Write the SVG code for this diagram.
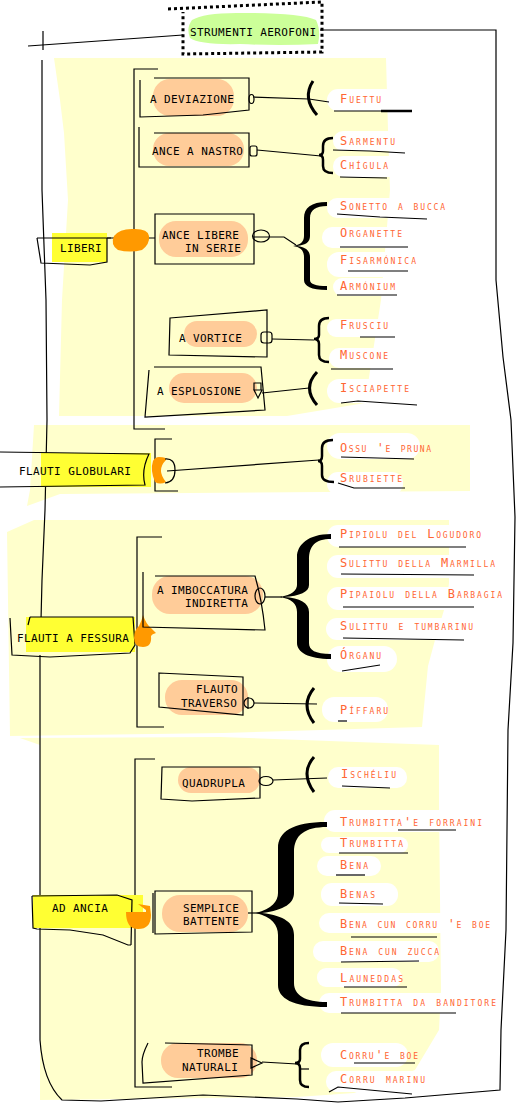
<svg xmlns="http://www.w3.org/2000/svg" width="529" height="1106" viewBox="0 0 529 1106">
<style>
.bg{fill:#FFFFCC}
.ln{fill:none;stroke:#000;stroke-width:1.2}
.ln2{fill:none;stroke:#000;stroke-width:2.5}
.ln3{fill:none;stroke:#000;stroke-width:3}
.br{fill:#000}
.pe{fill:#FFCC99}
.hl{fill:#FFFF33}
.or{fill:#FF9900}
.wb{fill:#FFFFFF}
.t{font-family:"DejaVu Sans Mono","Liberation Mono",monospace;font-size:11px;letter-spacing:0.4px;fill:#000}
.lf{font-family:"DejaVu Sans Mono","Liberation Mono",monospace;font-size:12px;font-variant:small-caps;fill:#FF6633}
</style>
<rect width="529" height="1106" fill="#FFFFFF"/>
<g id="backgrounds">
<path class="bg" d="M54,58 L386,58 L388,130 L390,190 L381,300 L365,403 L287,416 L59,416 L62,300 L68,200 L64,133 L60,100 Z"/>
<path class="bg" d="M34,425 L470,425 L470,491 L60,494 L27,506 L30,490 Z"/>
<path class="bg" d="M7,532 L34,520 L449,520 L449,583 L447,600 L435,640 L428,666 L422,727 L223,733 L10,736 Z"/>
<path class="bg" d="M20,738 L220,737 L439,745 L439,807 L441,990 L439,1030 L415,1070 L354,1093 L297,1097 L40,1100 L40,745 Z"/>
</g>
<g id="leaf-blobs">
<rect class="wb" x="327" y="89" width="70" height="22" rx="11"/>
<rect class="wb" x="333" y="131" width="72" height="20" rx="10"/>
<rect class="wb" x="333" y="156" width="66" height="21" rx="10"/>
<rect class="wb" x="327" y="198" width="125" height="20" rx="10"/>
<rect class="wb" x="322" y="227" width="88" height="21" rx="10"/>
<rect class="wb" x="327" y="252" width="95" height="25" rx="12"/>
<rect class="wb" x="333" y="278" width="70" height="18" rx="9"/>
<rect class="wb" x="327" y="319" width="70" height="18" rx="9"/>
<rect class="wb" x="329" y="348" width="70" height="20" rx="10"/>
<rect class="wb" x="327" y="379" width="90" height="24" rx="12"/>
<rect class="wb" x="327" y="433" width="93" height="26" rx="13"/>
<rect class="wb" x="327" y="472" width="76" height="23" rx="11"/>
<rect class="wb" x="327" y="525" width="160" height="22" rx="11"/>
<rect class="wb" x="327" y="555" width="175" height="23" rx="11"/>
<rect class="wb" x="327" y="587" width="180" height="23" rx="11"/>
<rect class="wb" x="326" y="618" width="155" height="22" rx="11"/>
<rect class="wb" x="327" y="646" width="70" height="26" rx="13"/>
<rect class="wb" x="322" y="697" width="66" height="25" rx="12"/>
<rect class="wb" x="328" y="767" width="79" height="21" rx="10"/>
<rect class="wb" x="324" y="810" width="170" height="22" rx="11"/>
<rect class="wb" x="321" y="837" width="87" height="16" rx="8"/>
<rect class="wb" x="317" y="856" width="64" height="20" rx="10"/>
<rect class="wb" x="321" y="883" width="77" height="23" rx="11"/>
<rect class="wb" x="319" y="913" width="178" height="20" rx="10"/>
<rect class="wb" x="313" y="941" width="126" height="21" rx="10"/>
<rect class="wb" x="317" y="968" width="85" height="19" rx="9"/>
<rect class="wb" x="319" y="993" width="180" height="20" rx="10"/>
<rect class="wb" x="321" y="1043" width="87" height="24" rx="12"/>
<rect class="wb" x="326" y="1071" width="108" height="21" rx="10"/>
</g>
<g id="connectors">
<path class="ln" d="M28,46 L183,35"/>
<path class="ln" d="M43,31 L43,50"/>
<path class="ln" d="M42,60 L42,190 L46,300 L47,420 L45,510 L42,580 L41,620"/>
<path class="ln" d="M40,655 L40,1040 Q43,1082 62,1100 L101,1101 L203,1095 L297,1099 L338,1102 L405,1098 L500,1090 L501,1030 L506,930 L508,730 L513,643 L515,517 L511,420 L503,357 L496,280 L496,30 L320,30"/>
<path class="ln" d="M158,69 L134,69 L134,429 L165,429"/>
<path class="ln" d="M172,439 L155,439 L155,491 L178,491"/>
<path class="ln" d="M162,537 L137,537 L137,727 L164,727"/>
<path class="ln" d="M155,759 L135,759 L135,1087 L172,1087"/>
<path class="ln" d="M107,238 L155,238"/>
<path class="ln" d="M167,471 L319,460"/>
<path class="ln" d="M253,97 L309,99 L329,102"/>
<path class="ln" d="M257,150 L321,156"/>
<path class="ln" d="M253,237 L284,237 L296,245"/>
<path class="ln" d="M272,339 L314,340"/>
<path class="ln" d="M262,393 L309,388"/>
<path class="ln" d="M265,597 L282,597"/>
<path class="ln" d="M254,703 L317,704"/>
<path class="ln" d="M273,780 L327,778"/>
<path class="ln" d="M248,913 L260,913"/>
<path class="ln" d="M262,1062 L297,1064"/>
<path class="ln3" d="M313,81 Q302,98 317,115"/>
<path class="ln3" d="M317,372 Q302,388 317,405"/>
<path class="ln3" d="M314,688 Q300,705 314,723"/>
<path class="ln3" d="M314,757 Q300,773 314,792"/>
<path class="ln2" d="M333,138 Q323,138 323,146 L323,151 Q323,155 319,155 Q323,155 323,160 L323,166 Q323,173 333,173"/>
<path class="ln2" d="M329,318 Q319,318 319,326 L319,335 Q319,339 314,339 Q319,339 319,344 L319,355 Q319,362 329,362"/>
<path class="ln2" d="M333,440 Q322,440 322,448 L322,456 Q322,461 318,461 Q322,461 322,466 L322,475 Q322,482 334,482"/>
<path class="ln2" d="M309,1043 Q300,1043 300,1050 L300,1059 Q300,1063 295,1063 Q300,1063 300,1068 L300,1080 Q300,1087 309,1087"/>
<path class="ln" d="M300,1069 L309,1069"/>
<path class="br" d="M327,202 L327,206 C316,206 310,210 310,218 L310,236 C310,242 306,245 297,246 C306,247 310,251 310,257 L310,280 C310,284 316,286 327,286 L327,290 C311,290 304,286 304,280 L304,257 C304,250 300,247 293,246 C300,245 304,242 304,236 L304,218 C304,208 311,202 327,202 Z"/>
<path class="br" d="M331,534 L331,539 C315,539 309,546 309,560 L309,585 C309,592 300,596 284,597 C300,598 309,603 309,612 L309,643 C309,650 315,654 331,654 L331,659 C308,659 297,652 297,643 L297,612 C297,604 292,599 280,597 C292,595 297,590 297,585 L297,557 C297,545 308,534 331,534 Z"/>
<path class="br" d="M327,822 L327,827 C305,827 294,835 294,852 L294,893 C294,903 285,910 262,913 C285,916 294,923 294,935 L294,983 C294,995 305,1002 327,1002 L327,1007 C292,1007 278,998 278,985 L278,935 C278,925 272,917 256,913 C272,909 278,901 278,893 L278,848 C278,832 292,822 327,822 Z"/>
</g>
<g id="underlines">
<path class="ln" d="M334,111 L412,111"/><path class="ln2" d="M381,111 L412,111"/>
<path class="ln" d="M333,150 L370,151 L405,153"/>
<path class="ln" d="M340,177 L387,178"/>
<path class="ln" d="M337,214 L380,217 L427,219"/>
<path class="ln" d="M340,247 L408,247"/>
<path class="ln" d="M348,271 L408,271"/>
<path class="ln" d="M337,295 L397,295"/>
<path class="ln" d="M360,337 L395,337"/>
<path class="ln" d="M331,369 L393,369"/>
<path class="ln" d="M341,403 L358,401 L417,405"/>
<path class="ln" d="M341,457 L414,459"/>
<path class="ln" d="M338,483 L354,488 L405,488"/>
<path class="ln" d="M339,547 L466,547"/>
<path class="ln" d="M341,574 L474,575"/>
<path class="ln" d="M343,607 L474,607"/>
<path class="ln" d="M343,638 L464,640"/>
<path class="ln" d="M342,671 L380,665"/>
<path class="ln" d="M338,721 L347,721"/>
<path class="ln" d="M342,786 L390,788"/>
<path class="ln" d="M398,830 L456,830"/>
<path class="ln" d="M339,853 L408,853"/>
<path class="ln" d="M336,875 L365,875"/>
<path class="ln" d="M339,903 L383,904"/>
<path class="ln" d="M351,937 L437,937"/>
<path class="ln" d="M341,962 L419,961"/>
<path class="ln" d="M344,987 L407,987"/>
<path class="ln" d="M341,1013 L456,1013"/>
<path class="ln" d="M354,1063 L415,1063"/>
<path class="ln" d="M329,1092 L338,1087 L412,1094"/>
</g>
<g id="root">
<path d="M192,20 Q205,12 245,13 Q300,13 316,20 Q321,30 318,44 Q280,46 240,44 Q200,45 190,38 Q186,28 192,20 Z" fill="#CCFF99"/>
<path d="M168,9 L322,2 L322,52 L183,54 L183,12" fill="none" stroke="#000" stroke-width="3" stroke-dasharray="3,3"/>
<text class="t" x="190" y="36">STRUMENTI AEROFONI</text>
</g>
<g id="liberi">
<rect class="hl" x="52" y="233" width="55" height="29"/>
<path class="ln" d="M37,238 L111,238 M37,238 L41,263 L90,265 L107,262 L107,238"/>
<path class="or" d="M114,236 Q120,228 135,229 Q148,229 149,236 Q150,244 142,250 Q130,253 118,250 Q110,245 114,236 Z"/>
<text class="t" x="60" y="252">LIBERI</text>
</g>
<g id="a-deviazione">
<rect class="pe" x="153" y="79" width="81" height="37" rx="17"/>
<path class="ln" d="M154,78 L249,78 L249,110 L203,115 L140,117 L140,80"/>
<ellipse class="ln" cx="251.5" cy="99" rx="2.5" ry="4.5"/>
<text class="t" x="150" y="103">A DEVIAZIONE</text>
</g>
<g id="ance-a-nastro">
<rect class="pe" x="153" y="133" width="91" height="33" rx="16"/>
<path class="ln" d="M154,133 L249,133 L249,167 L139,167 L139,127"/>
<rect class="ln" x="250" y="146" width="7" height="10" rx="2"/>
<text class="t" x="152" y="155">ANCE A NASTRO</text>
</g>
<g id="ance-libere">
<rect class="pe" x="159" y="221" width="89" height="36" rx="17"/>
<path class="ln" d="M155,214 L254,214 L254,264 L155,264 Z"/>
<ellipse class="ln" cx="261" cy="236" rx="8.5" ry="6"/>
<text class="t" x="162" y="239">ANCE LIBERE</text>
<text class="t" x="185" y="252">IN SERIE</text>
</g>
<g id="a-vortice">
<rect class="pe" x="184" y="321" width="73" height="26" rx="13"/>
<path class="ln" d="M170,318 L267,310 L267,357 L169,355 Z"/>
<rect class="ln" x="261" y="332" width="11" height="11" rx="3"/>
<text class="t" x="179" y="342">A VORTICE</text>
</g>
<g id="a-esplosione">
<rect class="pe" x="169" y="373" width="88" height="30" rx="15"/>
<path class="ln" d="M154,367 L261,367 L265,410 L145,417 L149,370"/>
<path class="ln" d="M254,383 L261,383 L261,390 L254,390 Z M254,390 L262,390 L258,398 Z"/>
<text class="t" x="157" y="395">A ESPLOSIONE</text>
</g>
<g id="flauti-globulari">
<rect class="hl" x="41" y="453" width="110" height="34"/>
<path class="ln" d="M0,452 L149,454 Q141,470 145,485 L0,487"/>
<path class="or" d="M159,457 Q167,457 166,460 Q156,470 166,482 Q160,485 155,482 Q150,470 153,461 Q155,457 159,457 Z"/>
<path class="ln" d="M165,459 Q175,458 175,470 Q175,482 165,483"/>
<text class="t" x="19" y="475">FLAUTI GLOBULARI</text>
</g>
<g id="flauti-a-fessura">
<rect class="hl" x="26" y="617" width="109" height="35"/>
<path class="ln" d="M30,617 L133,617 L135,645 L130,653 L50,657 L12,655 L10,618 M30,617 L28,625"/>
<path class="or" d="M143,615 Q146,624 151,628 L156,633 Q152,634 151,636 Q152,647 143,647 Q134,647 134,638 Q134,630 139,626 Q142,620 143,615 Z"/>
<text class="t" x="17" y="642">FLAUTI A FESSURA</text>
</g>
<g id="a-imboccatura">
<rect class="pe" x="152" y="576" width="111" height="38" rx="18"/>
<path class="ln" d="M143,572 L143,627 L265,630 Q262,600 255,576 L155,576"/>
<ellipse class="ln" cx="260" cy="596" rx="5" ry="8"/>
<text class="t" x="157" y="594">A IMBOCCATURA</text>
<text class="t" x="185" y="607">INDIRETTA</text>
</g>
<g id="flauto-traverso">
<rect class="pe" x="165" y="680" width="83" height="35" rx="17"/>
<path class="ln" d="M159,673 L243,677 L243,715 L159,707 Z"/>
<circle class="ln" cx="249" cy="703" r="5"/>
<path class="ln" d="M248,697 L248,709"/>
<text class="t" x="196" y="693">FLAUTO</text>
<text class="t" x="181" y="707">TRAVERSO</text>
</g>
<g id="ad-ancia">
<rect class="hl" x="33" y="895" width="110" height="33"/>
<path class="ln" d="M32,896 L117,895 L132,900 L131,945 M32,896 L33,928 L37,929 L70,930 L103,935 L128,945 L131,945"/>
<path class="or" d="M126,912 Q126,929 138,929 Q151,929 151,915 L150,906 L138,904 L146,910 L146,912 Z"/>
<text class="t" x="52" y="912">AD ANCIA</text>
</g>
<g id="quadrupla">
<rect class="pe" x="178" y="767" width="82" height="26" rx="13"/>
<path class="ln" d="M162,767 L260,767 L260,798 L192,801 L161,799 Z"/>
<ellipse class="ln" cx="266" cy="781" rx="7" ry="4.5"/>
<text class="t" x="182" y="787">QUADRUPLA</text>
</g>
<g id="semplice-battente">
<rect class="pe" x="162" y="895" width="86" height="37" rx="18"/>
<path class="ln" d="M155,891 L252,891 L252,932 L155,934 Z M153,893 L153,933"/>
<text class="t" x="183" y="912">SEMPLICE</text>
<text class="t" x="183" y="925">BATTENTE</text>
</g>
<g id="trombe-naturali">
<rect class="pe" x="161" y="1043" width="96" height="35" rx="17"/>
<path class="ln" d="M148,1043 Q142,1055 142,1062 L143,1083 L252,1075 L252,1045 L165,1043"/>
<path class="ln" d="M262,1063 L251,1058 L251,1068 Z"/>
<text class="t" x="197" y="1057">TROMBE</text>
<text class="t" x="182" y="1071">NATURALI</text>
</g>
<g id="leaves">
<text class="lf" x="340" y="103" textLength="41" lengthAdjust="spacing">Fuettu</text>
<text class="lf" x="340" y="145" textLength="55" lengthAdjust="spacing">Sarmentu</text>
<text class="lf" x="340" y="169" textLength="48" lengthAdjust="spacing">Chígula</text>
<text class="lf" x="340" y="210" textLength="105" lengthAdjust="spacing">Sonetto a bucca</text>
<text class="lf" x="340" y="237" textLength="62" lengthAdjust="spacing">Organette</text>
<text class="lf" x="340" y="264" textLength="76" lengthAdjust="spacing">Fisarmónica</text>
<text class="lf" x="340" y="290" textLength="55" lengthAdjust="spacing">Armónium</text>
<text class="lf" x="340" y="329" textLength="48" lengthAdjust="spacing">Frusciu</text>
<text class="lf" x="340" y="359" textLength="48" lengthAdjust="spacing">Muscone</text>
<text class="lf" x="340" y="392" textLength="69" lengthAdjust="spacing">Isciapette</text>
<text class="lf" x="340" y="452" textLength="91" lengthAdjust="spacing">Ossu 'e pruna</text>
<text class="lf" x="340" y="482" textLength="62" lengthAdjust="spacing">Srubiette</text>
<text class="lf" x="340" y="538" textLength="141" lengthAdjust="spacing">Pipiolu del Logudoro</text>
<text class="lf" x="340" y="567" textLength="155" lengthAdjust="spacing">Sulittu della Marmilla</text>
<text class="lf" x="340" y="598" textLength="162" lengthAdjust="spacing">Pipaiolu della Barbagia</text>
<text class="lf" x="340" y="630" textLength="133" lengthAdjust="spacing">Sulittu e tumbarinu</text>
<text class="lf" x="340" y="659" textLength="41" lengthAdjust="spacing">Órganu</text>
<text class="lf" x="340" y="714" textLength="48" lengthAdjust="spacing">Píffaru</text>
<text class="lf" x="341" y="778" textLength="55" lengthAdjust="spacing">Ischéliu</text>
<text class="lf" x="340" y="826" textLength="142" lengthAdjust="spacing">Trumbitta'e forraini</text>
<text class="lf" x="340" y="847" textLength="63" lengthAdjust="spacing">Trumbitta</text>
<text class="lf" x="340" y="869" textLength="28" lengthAdjust="spacing">Bena</text>
<text class="lf" x="340" y="898" textLength="35" lengthAdjust="spacing">Benas</text>
<text class="lf" x="340" y="928" textLength="150" lengthAdjust="spacing">Bena cun corru 'e boe</text>
<text class="lf" x="340" y="955" textLength="99" lengthAdjust="spacing">Bena cun zucca</text>
<text class="lf" x="340" y="982" textLength="63" lengthAdjust="spacing">Launeddas</text>
<text class="lf" x="340" y="1006" textLength="156" lengthAdjust="spacing">Trumbitta da banditore</text>
<text class="lf" x="340" y="1059" textLength="78" lengthAdjust="spacing">Corru'e boe</text>
<text class="lf" x="340" y="1083" textLength="85" lengthAdjust="spacing">Corru marinu</text>
</g>
</svg>
